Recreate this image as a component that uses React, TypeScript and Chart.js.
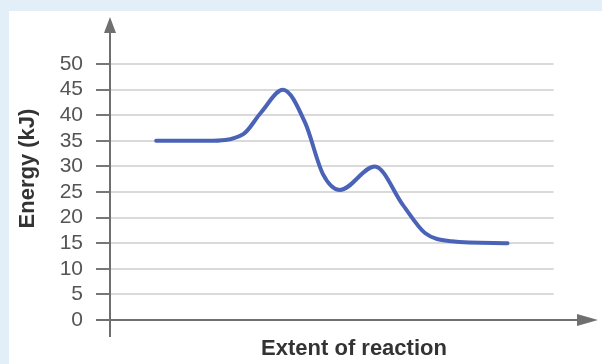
import { useEffect, useRef } from "react";
import { Chart, registerables } from "chart.js";

Chart.register(...registerables);

// Reaction coordinate (arbitrary extent units) and energy (kJ)
const EXTENT = [10.4, 22, 30, 34, 39, 44, 48, 51.8, 59.7, 66, 71, 77, 89.6];
const ENERGY = [35, 35, 36.3, 40.5, 45, 38.5, 28.5, 25.4, 30, 22.5, 17, 15.4, 15];

const Y_TICKS = [0, 5, 10, 15, 20, 25, 30, 35, 40, 45, 50];
const Y_MAX = 59.2; // top of the arrowed axis
const X_MAX = 110; // tip of the arrowed axis
const GRID_END = 100; // where the horizontal gridlines stop

const X_TITLE = "Extent of reaction";
const Y_TITLE = "Energy (kJ)";

const FONT = "'Liberation Sans', Arial, Helvetica, sans-serif";

const axesPlugin = {
  id: "arrowAxes",
  beforeDatasetsDraw(chart: any) {
    const { ctx, chartArea: a, scales } = chart;
    const xs = scales.x;
    const ys = scales.y;
    const gridEnd = xs.getPixelForValue(GRID_END);
    ctx.save();
    ctx.lineWidth = 2;
    ctx.strokeStyle = "#dadada";
    ys.ticks.forEach((t: any) => {
      if (t.value === 0) return;
      const y = Math.round(ys.getPixelForValue(t.value));
      ctx.beginPath();
      ctx.moveTo(a.left, y);
      ctx.lineTo(gridEnd, y);
      ctx.stroke();
    });

    const y0 = Math.round(ys.getPixelForValue(0));
    const x0 = Math.round(a.left);
    ctx.strokeStyle = "#6f6f6f";
    ctx.fillStyle = "#6f6f6f";
    // y axis
    ctx.beginPath();
    ctx.moveTo(x0, a.bottom + 17);
    ctx.lineTo(x0, a.top + 12);
    ctx.stroke();
    ctx.beginPath();
    ctx.moveTo(x0, a.top);
    ctx.lineTo(x0 - 6, a.top + 16);
    ctx.lineTo(x0 + 6, a.top + 16);
    ctx.closePath();
    ctx.fill();
    // x axis
    ctx.beginPath();
    ctx.moveTo(x0 - 14, y0);
    ctx.lineTo(a.right - 16, y0);
    ctx.stroke();
    ctx.beginPath();
    ctx.moveTo(a.right, y0);
    ctx.lineTo(a.right - 21, y0 - 6);
    ctx.lineTo(a.right - 21, y0 + 6);
    ctx.closePath();
    ctx.fill();
    ctx.restore();
  },
};

export default function App() {
  const ref = useRef<HTMLCanvasElement | null>(null);

  useEffect(() => {
    if (!ref.current) return;
    const chart = new Chart(ref.current, {
      type: "line",
      data: {
        datasets: [
          {
            data: EXTENT.map((x, i) => ({ x, y: ENERGY[i] })),
            borderColor: "#4a63b6",
            borderWidth: 4,
            pointRadius: 0,
            cubicInterpolationMode: "monotone",
            borderCapStyle: "round",
            borderJoinStyle: "round",
            fill: false,
          },
        ],
      },
      options: {
        animation: false,
        responsive: false,
        layout: { padding: { top: 17, right: 4, left: 0, bottom: 0 } },
        plugins: { legend: { display: false }, tooltip: { enabled: false } },
        scales: {
          x: {
            type: "linear",
            min: 0,
            max: X_MAX,
            grid: { display: false },
            border: { display: false },
            ticks: { display: false },
            title: {
              display: true,
              text: X_TITLE,
              color: "#333",
              font: { family: FONT, size: 22, weight: "bold" },
              padding: { top: 0, bottom: 2 },
            },
            afterFit(s: any) {
              s.height = 44;
              s.paddingLeft = 0;
              s.paddingRight = 0;
            },
          },
          y: {
            type: "linear",
            min: 0,
            max: Y_MAX,
            afterBuildTicks(s: any) {
              s.ticks = Y_TICKS.map((v) => ({ value: v }));
            },
            grid: {
              drawOnChartArea: false,
              drawTicks: true,
              tickLength: 14,
              tickColor: "#777",
              lineWidth: 2,
            },
            border: { display: false },
            ticks: {
              padding: 13,
              color: "#555",
              font: { family: FONT, size: 21 },
            },
            title: {
              display: true,
              text: Y_TITLE,
              color: "#333",
              font: { family: FONT, size: 22, weight: "bold" },
              padding: { top: 15, bottom: 0 },
            },
            afterFit(s: any) {
              s.width = 110;
              s.paddingTop = 0;
              s.paddingBottom = 0;
            },
          },
        },
      },
      plugins: [axesPlugin],
    } as any);
    return () => chart.destroy();
  }, []);

  return (
    <div
      style={{
        position: "fixed",
        left: 0,
        top: 0,
        width: 602,
        height: 364,
        background: "#e2eef8",
        overflow: "hidden",
      }}
    >
      <div
        style={{
          position: "absolute",
          left: 9,
          top: 11,
          right: 0,
          bottom: 0,
          background: "#ffffff",
        }}
      />
      <canvas
        ref={ref}
        width={602}
        height={364}
        style={{ position: "absolute", left: 0, top: 0, width: 602, height: 364 }}
      />
    </div>
  );
}
